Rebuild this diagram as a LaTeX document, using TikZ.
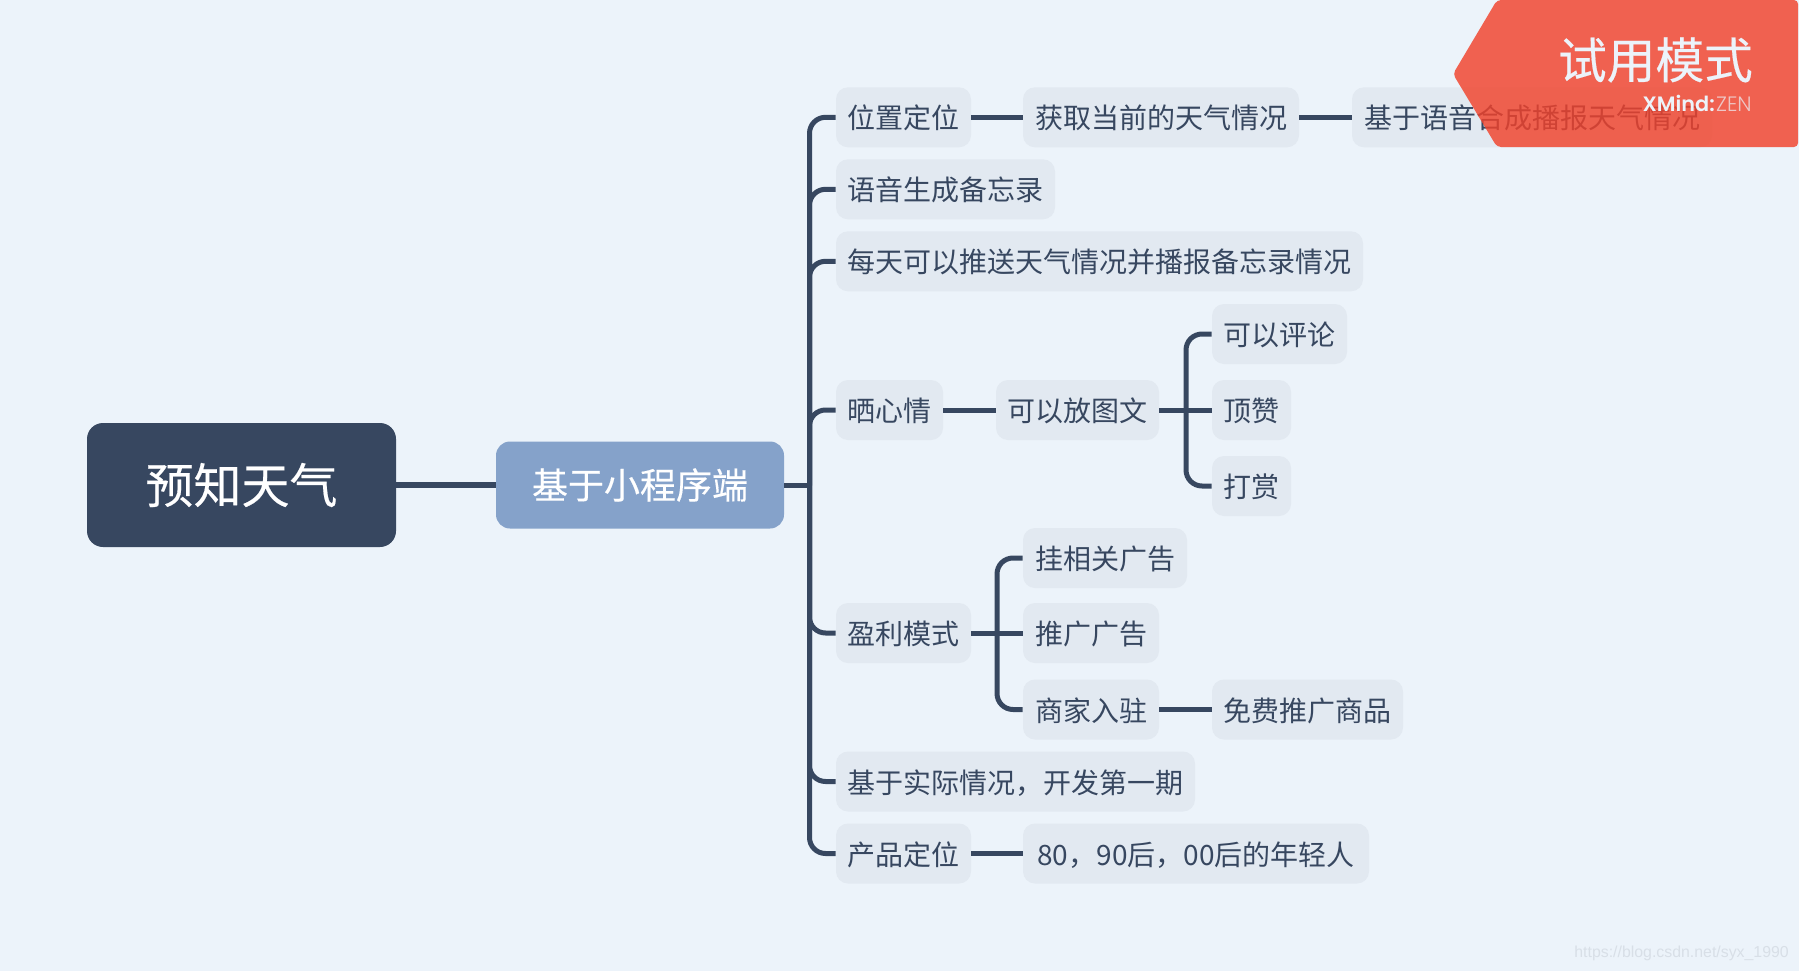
\documentclass[tikz,border=0pt]{standalone}
\usepackage{fontspec}
\setmainfont{Noto Sans CJK SC}
\newfontfamily\boldishcjk[FakeBold=0.35]{Noto Sans CJK SC}
\newfontfamily\brandheavy{Poppins SemiBold}
\newfontfamily\brandlight{Poppins Light}
\newfontfamily\wmfont{Liberation Sans}
\definecolor{bgc}{HTML}{ECF3FA}
\definecolor{ink}{HTML}{374760}
\definecolor{leaf}{HTML}{E2E9F1}
\definecolor{mainc}{HTML}{85A2CA}
\definecolor{banner}{HTML}{F1422B}
\definecolor{wmark}{HTML}{D8DFE7}
\tikzset{
  x=0.75pt,y=-0.75pt,
  lv/.style={fill=leaf,rounded corners=9pt,inner sep=0pt,minimum height=45pt,text height=17.6pt,text depth=0.2pt,text=ink,font=\fontsize{21pt}{25pt}\selectfont},
  wd/.style={minimum width=#1*0.75pt},
  rootbox/.style={fill=ink,rounded corners=12pt,inner sep=0pt,minimum width=231.75pt,minimum height=93pt,text=white,font=\boldishcjk\fontsize{36pt}{42pt}\selectfont},
  subbox/.style={fill=mainc,rounded corners=10.5pt,inner sep=0pt,minimum width=216pt,minimum height=65.25pt,text=white,font=\boldishcjk\fontsize{27pt}{32pt}\selectfont},
  conn/.style={draw=ink,line width=3.75pt},
  curved conn/.style={conn,rounded corners=12pt},
}
\begin{document}
\begin{tikzpicture}
\useasboundingbox (0,0) rectangle (1799,971);
\fill[bgc] (0,0) rectangle (1799,971);
% nodes
\node[rootbox] (root) at (241.5,485) {预知天气};
\node[subbox] (sub) at (640,485) {基于小程序端};
\node[lv,wd=135] (a1) at (903.5,117.3) {位置定位};
\node[lv,wd=276] (a2) at (1161,117.3) {获取当前的天气情况};
\node[lv,wd=360] (a3) at (1532,117.3) {基于语音合成播报天气情况};
\node[lv,wd=219] (b1) at (945.5,189.3) {语音生成备忘录};
\node[lv,wd=527] (c1) at (1099.5,261.3) {每天可以推送天气情况并播报备忘录情况};
\node[lv,wd=107] (d1) at (889.5,410) {晒心情};
\node[lv,wd=163] (d2) at (1077.5,410) {可以放图文};
\node[lv,wd=135] (d3) at (1279.5,334) {可以评论};
\node[lv,wd=79] (d4) at (1251.5,410) {顶赞};
\node[lv,wd=79] (d5) at (1251.5,486) {打赏};
\node[lv,wd=135] (e1) at (903.5,633) {盈利模式};
\node[lv,wd=164] (e2) at (1105,558) {挂相关广告};
\node[lv,wd=136] (e3) at (1091,633) {推广广告};
\node[lv,wd=136] (e4) at (1091,709.5) {商家入驻};
\node[lv,wd=191] (e5) at (1307.5,709.5) {免费推广商品};
\node[lv,wd=359] (f1) at (1015.5,781.5) {基于实际情况，开发第一期};
\node[lv,wd=135] (g1) at (903.5,853.5) {产品定位};
\node[lv,wd=346] (g2) at (1196,853.5) {80，90后，00后的年轻人};
% junctions
\coordinate (tr) at (809.5,485);
\coordinate (jd) at (1186,410);
\coordinate (je) at (997,633);
% connectors
\draw[conn,line width=4.5pt] (root.east) -- (sub.west);
\draw[conn] (sub.east) -- (tr);
\foreach \n in {a1,b1,c1,d1,e1,f1,g1}{\draw[curved conn] (tr) |- (\n.west);}
\draw[conn] (a1.east) -- (a2.west);
\draw[conn] (a2.east) -- (a3.west);
\draw[conn] (d1.east) -- (d2.west);
\draw[conn] (d2.east) -- (d4.west);
\draw[curved conn] (jd) |- (d3.west);
\draw[curved conn] (jd) |- (d5.west);
\draw[conn] (e1.east) -- (e3.west);
\draw[curved conn] (je) |- (e2.west);
\draw[curved conn] (je) |- (e4.west);
\draw[conn] (e4.east) -- (e5.west);
\draw[conn] (g1.east) -- (g2.west);
% trial banner
\fill[banner,fill opacity=.82,rounded corners=3pt] (1453,74) -- (1497,0) -- (1798,0) -- (1798,147) -- (1497,147) -- cycle;
\node[anchor=east,inner sep=0pt,text=bgc,font=\boldishcjk\fontsize{36.5pt}{42pt}\selectfont] (trial) at (1753,60) {试用模式};
\node[anchor=east,inner sep=0pt,text=bgc,font=\fontsize{15.6pt}{18pt}\selectfont] (brand) at (1752,103) {{\brandheavy XMind:}\kern1pt{\brandlight\textcolor{bgc!75!banner}{ZEN}}};
% watermark
\node[anchor=east,inner sep=0pt,text=wmark,font=\wmfont\fontsize{11.9pt}{15pt}\selectfont] (wm) at (1789,953) {https://blog.csdn.net/syx\_1990};
\end{tikzpicture}
\end{document}
